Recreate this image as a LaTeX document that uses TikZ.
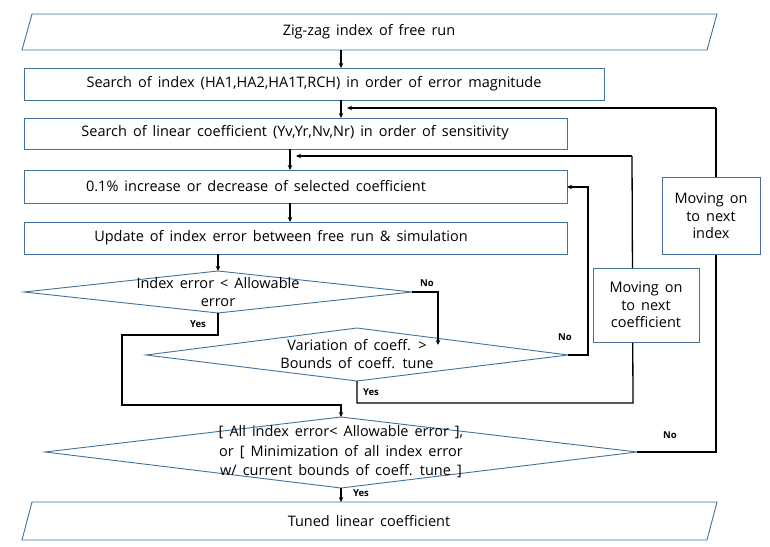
\documentclass[tikz,border=0pt]{standalone}
\usepackage{fontspec}
\setmainfont{Open Sans}
\usetikzlibrary{arrows.meta}
\definecolor{bord}{HTML}{41719C}
\newcommand{\wsp}{\spaceskip=6pt\relax}
\begin{document}
\begin{tikzpicture}[x=1pt,y=-1pt,
  shp/.style={draw=bord, line width=0.9pt, fill=white},
  txt/.style={font=\fontsize{14.5}{17.5}\selectfont\wsp, align=center, inner sep=0pt},
  ln/.style={line width=1.3pt},
  ar/.style={line width=1.3pt,-{Stealth[length=5pt,width=4.5pt]}},
  lab/.style={font=\bfseries\fontsize{9.5}{11}\selectfont, inner sep=0pt}]
\useasboundingbox (0,0) rectangle (770,546);
% shapes
\draw[shp] (32,14) -- (717,14) -- (707,50) -- (22,50) -- cycle;
\node[txt] (top) at (369,32) {Zig-zag index of free run};
\draw[shp] (24,68) rectangle (604,100);
\node[txt] (r2) at (314,84) {Search of index (HA1,HA2,HA1T,RCH) in order of error magnitude};
\draw[shp] (24,118) rectangle (567,149);
\node[txt] (r3) at (295,133) {Search of linear coefficient (Yv,Yr,Nv,Nr) in order of sensitivity};
\draw[shp] (24,170) rectangle (567,203);
\node[txt] (r4) at (256,186) {0.1\% increase or decrease of selected coefficient};
\draw[shp] (24,222) rectangle (567,254);
\node[txt] (r5) at (281,238) {Update of index error between free run \& simulation};
\draw[shp] (24,292) -- (218,271) -- (412,292) -- (218,313) -- cycle;
\node[txt] (d1) at (218,292) {Index error < Allowable\\error};
\draw[shp] (146,355) -- (357,328) -- (568,355) -- (357,381) -- cycle;
\node[txt] (d2) at (357,354) {Variation of coeff. >\\Bounds of coeff. tune};
\draw[shp] (45,452) -- (341,417) -- (637,452) -- (341,488) -- cycle;
\node[txt, font=\fontsize{14.5}{19.5}\selectfont\wsp] (d3) at (341,452) {[ All index error< Allowable error ],\\or [ Minimization of all index error\\w/ current bounds of coeff. tune ]};
\draw[shp] (32,502) -- (717,502) -- (707,540) -- (22,540) -- cycle;
\node[txt] (bot) at (369,521) {Tuned linear coefficient};
% coordinates
\coordinate (t1) at (341,50); \coordinate (t2) at (341,68);
\coordinate (a1) at (341,100); \coordinate (a2) at (341,118);
\coordinate (b1) at (290,149); \coordinate (b2) at (290,170);
\coordinate (c1) at (290,203); \coordinate (c2) at (290,222);
\coordinate (e1) at (218,254); \coordinate (e2) at (218,271);
\coordinate (d1b) at (218,313); \coordinate (d1r) at (412,292);
\coordinate (d2t) at (438,345); \coordinate (d2r) at (568,355); \coordinate (d2b) at (357,381);
\coordinate (d3t) at (341,417); \coordinate (d3r) at (637,452); \coordinate (d3b) at (341,488);
\coordinate (bt) at (341,502);
\coordinate (r4r) at (567,187); \coordinate (j3) at (296,156); \coordinate (j2) at (347,108);
% connectors
\draw[ln] (632,156) -- (633,403) -- (357,403) -- (d2b);
\draw[ln] (716,108) -- (716,452) -- (d3r);
\draw[ar] (t1) -- (t2);
\draw[ar] (a1) -- (a2);
\draw[ar] (b1) -- (b2);
\draw[ar] (c1) -- (c2);
\draw[ar] (e1) -- (e2);
\draw[ar] (d1r) -- (438,292) -- (d2t);
\draw[ar] (d2r) -- (588,355) -- (588,187) -- (r4r);
\draw[ar] (d1b) -- (218,335) -- (122,335) -- (122,405) -- (341,405) -- (d3t);
\draw[ar] (632,156) -- (j3);
\draw[ar] (716,108) -- (j2);
\draw[ar] (d3b) -- (bt);
% side boxes
\node[shp, txt, minimum width=106pt, minimum height=74pt] (mc) at (646,305) {Moving on\\to next\\coefficient};
\node[shp, txt, minimum width=98pt, minimum height=77pt] (mi) at (711,216) {Moving on\\to next\\index};
% labels
\node[lab] (l1) at (198,324) {Yes};
\node[lab] (l2) at (427,283) {No};
\node[lab] (l3) at (565,337) {No};
\node[lab] (l4) at (371,392) {Yes};
\node[lab] (l5) at (670,435) {No};
\node[lab] (l6) at (361,493) {Yes};
\end{tikzpicture}
\end{document}
